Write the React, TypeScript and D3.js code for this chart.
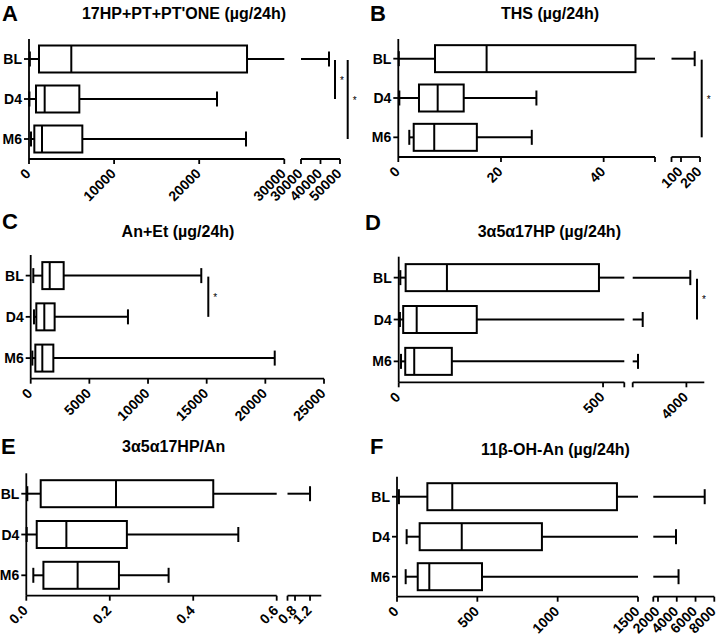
import React from 'react';
import * as d3 from 'd3';

const GROUPS = ['BL', 'D4', 'M6'];

// each row: [min, Q1, median, Q3, max]
const statsA = [[100, 1175, 4970, 25620, 44360], [50, 822, 1841, 5914, 22090], [235, 626, 1528, 6267, 25500]];
const statsB = [[0.1, 7.15, 17.2, 46.2, 172], [0.2, 4.03, 7.67, 12.74, 26.9], [2.14, 3.0, 7.0, 15.3, 26.0]];
const statsC = [[222, 990, 1620, 2810, 14540], [280, 480, 1160, 2040, 8290], [140, 395, 990, 1930, 20800]];
const statsD = [[4, 17, 118, 490, 4218], [3, 11, 44, 191, 1559], [5.6, 16, 38, 130, 1296]];
const statsE = [[0.0024, 0.0345, 0.215, 0.448, 1.2], [0.001, 0.025, 0.096, 0.241, 0.508], [0.0168, 0.041, 0.123, 0.222, 0.341]];
const statsF = [[12, 189, 344, 1369, 6977], [60, 141, 403, 902, 3919], [54, 129, 201, 529, 4190]];

const titles = ["17HP+PT+PT'ONE (\u00b5g/24h)", 'THS (\u00b5g/24h)', 'An+Et (\u00b5g/24h)', '3\u03b15\u03b117HP (\u00b5g/24h)', '3\u03b15\u03b117HP/An', '11\u03b2-OH-An (\u00b5g/24h)'];
const letters = ['A', 'B', 'C', 'D', 'E', 'F'];

// axis segments: domains, ticks and tick labels
const domainsA = [[0, 30000], [30000, 50000]];
const ticksA = [[0, 10000, 20000, 30000], [30000, 40000, 50000]];
const labelsA = [['0', '10000', '20000', '30000'], ['30000', '40000', '50000']];

const domainsB = [[0, 50], [50, 200]];
const ticksB = [[0, 20, 40, 50], [50, 100, 200]];
const labelsB = [['0', '20', '40', ''], ['', '100', '200']];

const domainsC = [[0, 25000]];
const ticksC = [[0, 5000, 10000, 15000, 20000, 25000]];
const labelsC = [['0', '5000', '10000', '15000', '20000', '25000']];

const domainsD = [[0, 552], [1000, 5000]];
const ticksD = [[0, 500, 552], [1000, 4000]];
const labelsD = [['0', '500', ''], ['', '4000']];

const domainsE = [[0, 0.6], [0.6, 1.5]];
const ticksE = [[0, 0.2, 0.4, 0.6], [0.6, 0.8, 1.2]];
const labelsE = [['0.0', '0.2', '0.4', '0.6'], ['', '0.8', '1.2']];

const domainsF = [[0, 1500], [1500, 8000]];
const ticksF = [[0, 500, 1000, 1500], [1500, 2000, 4000, 6000, 8000]];
const labelsF = [['0', '500', '1000', '1500'], ['', '2000', '4000', '6000', '8000']];

// significance comparisons (pairs of groups)
const sigA = [['BL', 'D4'], ['BL', 'M6']];
const sigB = [['BL', 'M6']];
const sigC = [['BL', 'D4']];
const sigD = [['BL', 'D4']];
const sigE: string[][] = [];
const sigF: string[][] = [];

const FONT = "'Liberation Sans', Arial, Helvetica, sans-serif";

type PanelProps = {
  letter: string;
  title: string;
  stats: number[][];
  domains: number[][];
  ticks: number[][];
  labels: string[][];
  sig: string[][];
  layout: {
    letterPos: [number, number];
    titlePos: [number, number];
    yRange: [number, number];
    ranges: [number, number][];
    sigX: number[];
  };
};

function Panel({ letter, title, stats, domains, ticks, labels, sig, layout }: PanelProps) {
  const scales = domains.map((d, i) => d3.scaleLinear().domain(d).range(layout.ranges[i]));
  const y = d3.scaleBand().domain(GROUPS).range(layout.yRange).paddingInner(0).paddingOuter(0);
  const axisX = layout.ranges[0][0];
  const axisY = layout.yRange[1];
  const xOf = (v: number) => {
    for (let i = 0; i < domains.length; i++) {
      if (v <= domains[i][1]) return scales[i](v);
    }
    return scales[scales.length - 1](v);
  };
  const pieces = (a: number, b: number) => {
    const out: [number, number][] = [];
    domains.forEach((d, i) => {
      const lo = Math.max(a, d[0]);
      const hi = Math.min(b, d[1]);
      if (lo < hi) out.push([scales[i](lo), scales[i](hi)]);
    });
    return out;
  };
  const boxH = 27;
  const capH = 15;
  const sw = 2;
  return (
    <g fontFamily={FONT} fill="#000">
      <text x={layout.letterPos[0]} y={layout.letterPos[1]} fontSize={22} fontWeight="bold">{letter}</text>
      <text x={layout.titlePos[0]} y={layout.titlePos[1]} fontSize={16} fontWeight="bold" textAnchor="middle">{title}</text>
      {/* y axis */}
      <line x1={axisX} x2={axisX} y1={layout.yRange[0]} y2={axisY} stroke="#000" strokeWidth={1.8} />
      {GROUPS.map((g) => {
        const cy = (y(g) as number) + y.bandwidth() / 2;
        return (
          <g key={g}>
            <line x1={axisX - 5} x2={axisX} y1={cy} y2={cy} stroke="#000" strokeWidth={1.8} />
            <text x={axisX - 7} y={cy} dy="0.36em" textAnchor="end" fontSize={14} fontWeight="bold">{g}</text>
          </g>
        );
      })}
      {/* x axis segments */}
      {domains.map((d, i) => (
        <g key={'seg' + i}>
          <line x1={layout.ranges[i][0]} x2={layout.ranges[i][1]} y1={axisY} y2={axisY} stroke="#000" strokeWidth={1.8} />
          {ticks[i].map((t, j) => {
            const tx = scales[i](t);
            return (
              <g key={j}>
                <line x1={tx} x2={tx} y1={axisY} y2={axisY + 5} stroke="#000" strokeWidth={1.8} />
                {labels[i][j] ? (
                  <text
                    transform={`translate(${tx - 1},${axisY + 12}) rotate(-45)`}
                    textAnchor="end"
                    dy="0.36em"
                    fontSize={14}
                    fontWeight="bold"
                  >
                    {labels[i][j]}
                  </text>
                ) : null}
              </g>
            );
          })}
        </g>
      ))}
      {/* boxes */}
      {stats.map((s, k) => {
        const g = GROUPS[k];
        const cy = (y(g) as number) + y.bandwidth() / 2;
        const [mn, q1, md, q3, mx] = s;
        return (
          <g key={g} stroke="#000" strokeWidth={sw} fill="none">
            {pieces(mn, q1).map((p, i) => (
              <line key={'l' + i} x1={p[0]} x2={p[1]} y1={cy} y2={cy} />
            ))}
            {pieces(q3, mx).map((p, i) => (
              <line key={'r' + i} x1={p[0]} x2={p[1]} y1={cy} y2={cy} />
            ))}
            <line x1={xOf(mn)} x2={xOf(mn)} y1={cy - capH / 2} y2={cy + capH / 2} />
            <line x1={xOf(mx)} x2={xOf(mx)} y1={cy - capH / 2} y2={cy + capH / 2} />
            <rect x={xOf(q1)} y={cy - boxH / 2} width={xOf(q3) - xOf(q1)} height={boxH} fill="#fff" />
            <line x1={xOf(md)} x2={xOf(md)} y1={cy - boxH / 2} y2={cy + boxH / 2} />
          </g>
        );
      })}
      {/* significance */}
      {sig.map((pair, i) => {
        const y1 = (y(pair[0]) as number) + y.bandwidth() / 2 + 1;
        const y2 = (y(pair[1]) as number) + y.bandwidth() / 2;
        const sx = layout.sigX[i];
        return (
          <g key={'sig' + i}>
            <line x1={sx} x2={sx} y1={y1} y2={y2} stroke="#000" strokeWidth={2} />
            <text x={sx + 5} y={(y1 + y2) / 2 + 4} fontSize={10} fill="#000">*</text>
          </g>
        );
      })}
    </g>
  );
}

export default function App() {
  const panels: PanelProps[] = [
    {
      letter: letters[0], title: titles[0], stats: statsA, domains: domainsA, ticks: ticksA, labels: labelsA, sig: sigA,
      layout: { letterPos: [2, 21], titlePos: [184, 19], yRange: [39, 159], ranges: [[29, 284.3], [301, 340]], sigX: [335, 347.7] },
    },
    {
      letter: letters[1], title: titles[1], stats: statsB, domains: domainsB, ticks: ticksB, labels: labelsB, sig: sigB,
      layout: { letterPos: [370, 21], titlePos: [550, 19], yRange: [39, 157], ranges: [[398.3, 655], [671.5, 700]], sigX: [701.7] },
    },
    {
      letter: letters[2], title: titles[2], stats: statsC, domains: domainsC, ticks: ticksC, labels: labelsC, sig: sigC,
      layout: { letterPos: [2, 229], titlePos: [178, 236.5], yRange: [255, 378.7], ranges: [[30.7, 324]], sigX: [208.3] },
    },
    {
      letter: letters[3], title: titles[3], stats: statsD, domains: domainsD, ticks: ticksD, labels: labelsD, sig: sigD,
      layout: { letterPos: [365, 230], titlePos: [549.3, 236.5], yRange: [256.7, 382.3], ranges: [[398.7, 624.3], [632.7, 704.3]], sigX: [697] },
    },
    {
      letter: letters[4], title: titles[4], stats: statsE, domains: domainsE, ticks: ticksE, labels: labelsE, sig: sigE,
      layout: { letterPos: [1, 454], titlePos: [173.7, 451.5], yRange: [473.3, 595.7], ranges: [[26.3, 276.7], [287.5, 321.3]], sigX: [] },
    },
    {
      letter: letters[5], title: titles[5], stats: statsF, domains: domainsF, ticks: ticksF, labels: labelsF, sig: sigF,
      layout: { letterPos: [370, 454], titlePos: [555.5, 455], yRange: [476.7, 596.7], ranges: [[397, 638], [653.3, 714.3]], sigX: [] },
    },
  ];
  return (
    <svg width={722} height={635} style={{ position: 'absolute', left: 0, top: 0, background: '#fff' }}>
      <rect width={722} height={635} fill="#fff" />
      {panels.map((p) => (
        <Panel key={p.letter} {...p} />
      ))}
    </svg>
  );
}
